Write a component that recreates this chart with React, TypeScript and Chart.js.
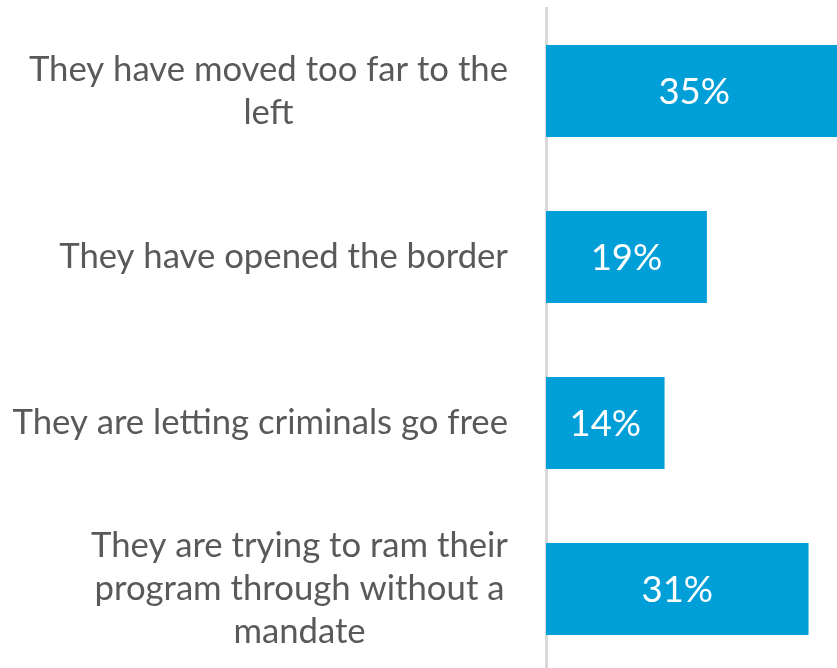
import { useEffect, useRef } from "react";
import { Chart, registerables } from "chart.js";

Chart.register(...registerables);

const categories: string[][] = [
  ["They have moved too far to the", "left"],
  ["They have opened the border"],
  ["They are letting criminals go free"],
  ["They are trying to ram their", "program through without a", "mandate"],
];
const values: number[] = [35, 19, 14, 31];
const valueLabels: string[] = ["35%", "19%", "14%", "31%"];

export default function App() {
  const ref = useRef<HTMLCanvasElement>(null);

  useEffect(() => {
    document.documentElement.style.overflow = "hidden";
    document.body.style.margin = "0";
    const canvas = ref.current;
    if (!canvas) return;

    const labelPlugin = {
      id: "customLabels",
      afterDatasetsDraw(chart: any) {
        const ctx = chart.ctx as CanvasRenderingContext2D;
        const yScale = chart.scales.y;
        const meta = chart.getDatasetMeta(0);
        ctx.save();
        ctx.textAlign = "center";
        ctx.textBaseline = "middle";
        ctx.font = "34.7px Lato";
        ctx.fillStyle = "#595959";
        const rightEdge = chart.chartArea.left - 38;
        categories.forEach((lines, i) => {
          const cy = yScale.getPixelForValue(i);
          const w = Math.max(...lines.map((l) => ctx.measureText(l).width));
          const cx = rightEdge - w / 2;
          const lh = 43;
          lines.forEach((l, j) => {
            ctx.fillText(l, cx, cy + (j - (lines.length - 1) / 2) * lh);
          });
        });
        ctx.font = "36.5px Lato";
        ctx.fillStyle = "#ffffff";
        meta.data.forEach((bar: any, i: number) => {
          const p = bar.getProps(["x", "y", "base"], true);
          ctx.fillText(valueLabels[i], (p.x + p.base) / 2, p.y + 1);
        });
        ctx.restore();
      },
    };

    const chart = new Chart(canvas, {
      type: "bar",
      data: {
        labels: categories.map((l) => l.join(" ")),
        datasets: [
          {
            data: values,
            backgroundColor: "#009FD8",
            borderWidth: 0,
            barPercentage: 0.555,
            categoryPercentage: 1,
          },
        ],
      },
      options: {
        indexAxis: "y",
        responsive: false,
        animation: false,
        layout: { padding: { top: 8, left: 0, right: 0, bottom: 0 } },
        plugins: {
          legend: { display: false },
          tooltip: { enabled: false },
        },
        scales: {
          x: { display: false, min: 0, max: 34.36 },
          y: {
            grid: { display: false, drawTicks: false },
            ticks: { display: false },
            border: { display: true, color: "#d9d9d9", width: 3 },
            afterFit: (s: any) => {
              s.width = 546;
            },
          },
        },
      },
      plugins: [labelPlugin],
    });

    return () => chart.destroy();
  }, []);

  return (
    <div style={{ width: "837px", height: "672px" }}>
      <canvas
        ref={ref}
        width={837}
        height={672}
        style={{ display: "block", width: "837px", height: "672px" }}
      />
    </div>
  );
}
